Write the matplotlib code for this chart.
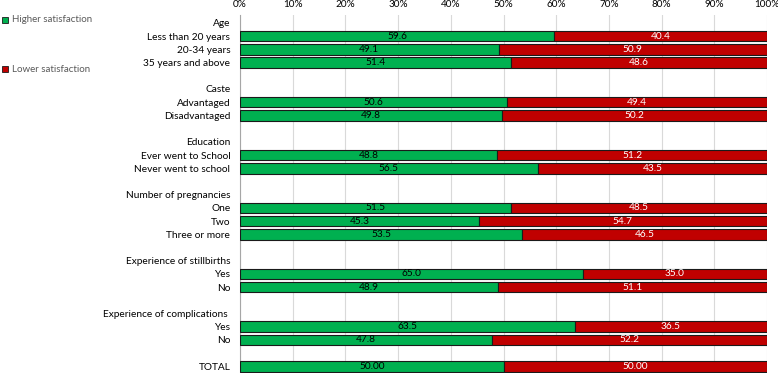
import matplotlib
matplotlib.use("Agg")
import matplotlib.pyplot as plt
from matplotlib.patches import Rectangle

plt.rcParams['font.family'] = ['Lato', 'DejaVu Sans']

labels = ["Age", "Less than 20 years", "20-34 years", "35 years and above", "",
          "Caste", "Advantaged", "Disadvantaged", "",
          "Education", "Ever went to School", "Never went to school", "",
          "Number of pregnancies", "One", "Two", "Three or more", "",
          "Experience of stillbirths", "Yes", "No", "",
          "Experience of complications ", "Yes", "No", "",
          "TOTAL"]
higher = [None, 59.6, 49.1, 51.4, None,
          None, 50.6, 49.8, None,
          None, 48.8, 56.5, None,
          None, 51.5, 45.3, 53.5, None,
          None, 65.0, 48.9, None,
          None, 63.5, 47.8, None,
          50.00]
lower = [None, 40.4, 50.9, 48.6, None,
         None, 49.4, 50.2, None,
         None, 51.2, 43.5, None,
         None, 48.5, 54.7, 46.5, None,
         None, 35.0, 51.1, None,
         None, 36.5, 52.2, None,
         50.00]
xticks = [0, 10, 20, 30, 40, 50, 60, 70, 80, 90, 100]
series_names = ["Higher satisfaction", "Lower satisfaction"]

GREEN = "#00B050"
RED = "#C00000"

fig = plt.figure(figsize=(7.78, 3.73), dpi=100)
ax = fig.add_axes([240/778, 0, (767-240)/778, (373-15)/373])

n = len(labels)
ys = list(range(n))
for i, (h, l) in enumerate(zip(higher, lower)):
    if h is None:
        continue
    ax.barh(i, h, left=0, height=0.8, color=GREEN, edgecolor="#1a1a1a", linewidth=0.8, zorder=3)
    ax.barh(i, l, left=h, height=0.8, color=RED, edgecolor="#1a1a1a", linewidth=0.8, zorder=3)
    fmt = "{:.2f}" if labels[i] == "TOTAL" else "{:.1f}"
    ax.text(h / 2, i, fmt.format(h), ha="center", va="center", fontsize=7.3, color="black", zorder=4)
    ax.text(h + l / 2, i, fmt.format(l), ha="center", va="center", fontsize=7.3, color="white", zorder=4)

ax.set_ylim(n - 0.5, -0.6)
ax.set_xlim(0, 100)
ax.set_yticks(ys)
ax.set_yticklabels(labels, fontsize=7.3)
ax.set_xticks(xticks)
ax.set_xticklabels([f"{t}%" for t in xticks], fontsize=7.2)
ax.xaxis.tick_top()
ax.tick_params(axis="x", length=0, pad=4)
ax.tick_params(axis="y", length=0, pad=7)
ax.grid(axis="x", color="#D9D9D9", linewidth=0.8, zorder=0)
for s in ["top", "right", "bottom"]:
    ax.spines[s].set_visible(False)
ax.spines["left"].set_color("#A6A6A6")
ax.spines["left"].set_linewidth(0.8)

# legend
for (name, col, ypix) in [(series_names[0], GREEN, 20), (series_names[1], RED, 69)]:
    fig.add_artist(Rectangle((2/778, 1 - (ypix + 3)/373), 6/778, 6/373,
                             facecolor=col, edgecolor="#1a1a1a", linewidth=0.6,
                             transform=fig.transFigure))
    fig.text(12/778, 1 - ypix/373, name, fontsize=7.0, color="#595959", va="center", ha="left")

fig.savefig("out.png", dpi=100)
